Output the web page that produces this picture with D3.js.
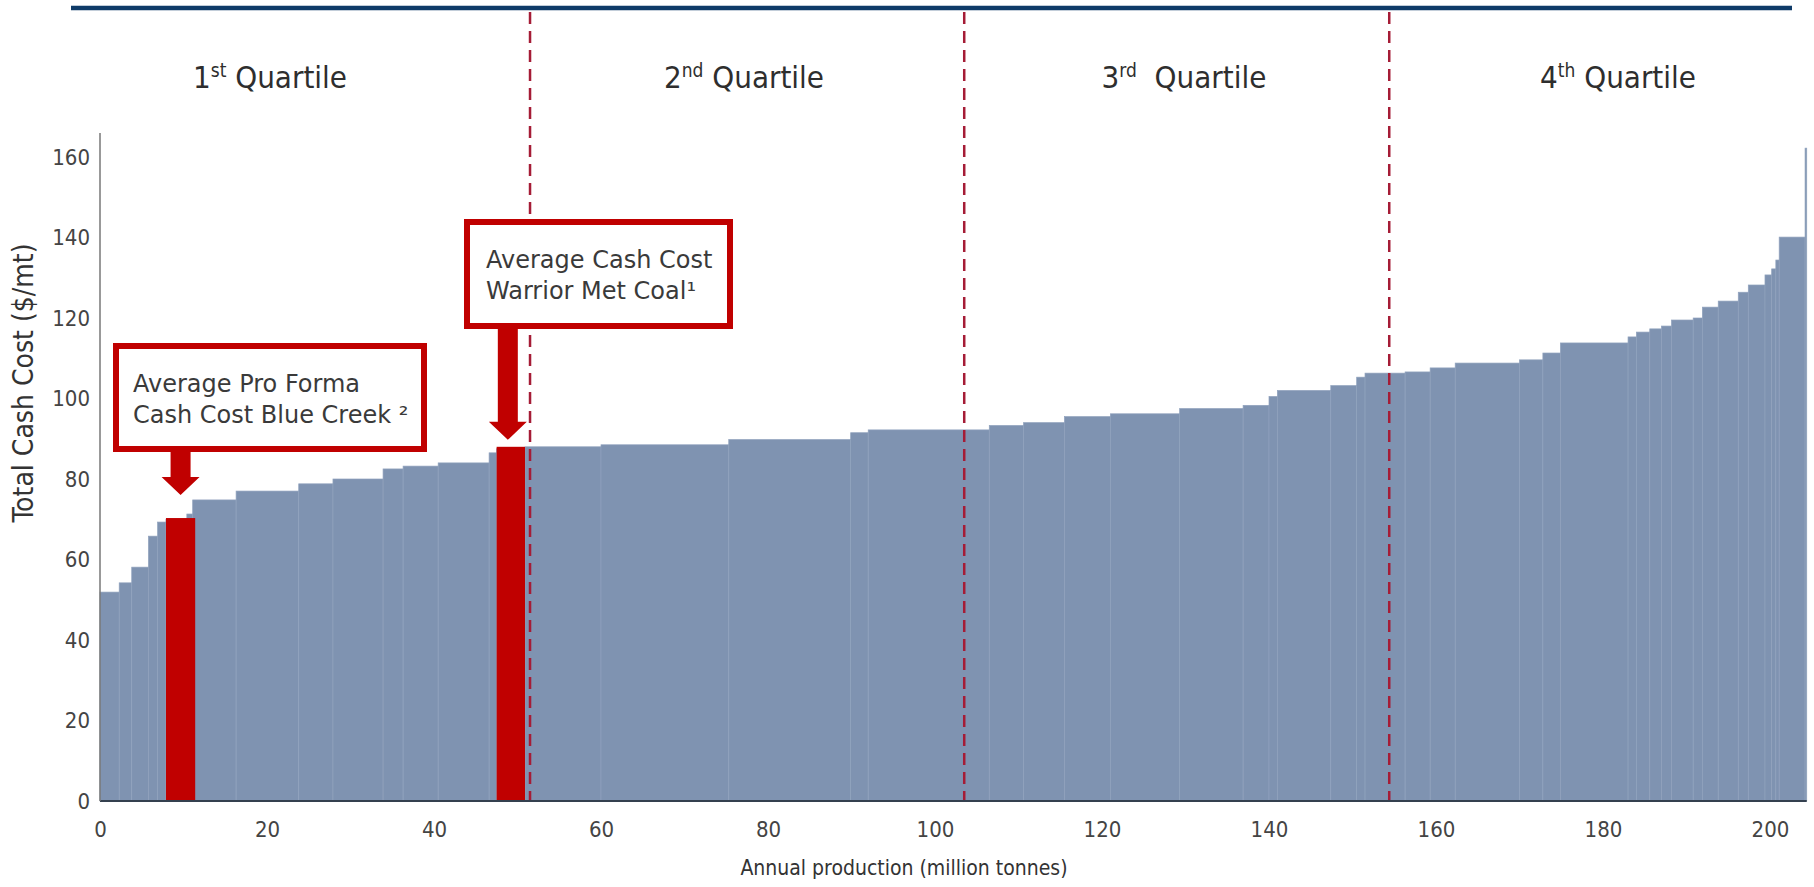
<!DOCTYPE html>
<html>
<head>
<meta charset="utf-8">
<script src="https://cdn.jsdelivr.net/npm/d3@7"></script>
<style>
  body { margin: 0; background: #fff; }
  svg { display: block; }
</style>
</head>
<body>
<div id="chart"></div>
<script>
// Cost curve: each step = one mine, ranked from cheapest to most expensive
// annual production of each mine (million tonnes)
const mineProduction = [2.3, 1.5, 2.0, 1.1, 1.0, 2.5, 0.7, 5.2, 7.5, 4.1,
                        6.0, 2.4, 4.2, 6.1, 0.9, 3.4, 9.1, 15.3, 14.6, 2.1,
                        14.5, 4.1, 4.9, 5.5, 8.3, 7.6, 3.1, 1.0, 6.4, 3.1,
                        1.0, 4.8, 3.0, 3.0, 7.7, 2.8, 2.1, 8.1, 1.0, 1.6,
                        1.4, 1.2, 2.6, 1.1, 1.9, 2.4, 1.2, 2.0, 0.8, 0.5,
                        0.4, 3.1, 0.2];
// total cash cost of each mine ($/mt)
const cashCost = [51.9, 54.2, 58.1, 65.8, 69.3, 70.0, 71.3, 74.8, 77.0, 78.8,
                  80.0, 82.5, 83.2, 84.0, 86.5, 87.5, 88.0, 88.5, 89.8, 91.5,
                  92.2, 93.3, 94.0, 95.5, 96.2, 97.5, 98.3, 100.5, 102.0, 103.2,
                  105.3, 106.3, 106.6, 107.6, 108.8, 109.6, 111.3, 113.8, 115.3, 116.5,
                  117.3, 118.0, 119.5, 120.0, 122.7, 124.2, 126.4, 128.2, 130.7, 132.2,
                  134.4, 140.1, 162.2];

const xTicks = [0, 20, 40, 60, 80, 100, 120, 140, 160, 180, 200];
const yTicks = [0, 20, 40, 60, 80, 100, 120, 140, 160];

// quartile boundaries (million tonnes)
const quartileBreaks = [51.5, 103.5, 154.4];
const quartileNum = ["1", "2", "3", "4"];
const quartileSup = ["st", "nd", "rd", "th"];
const quartileWord = [" Quartile", " Quartile", "  Quartile", " Quartile"];

// highlighted mines
const highlightStart = [7.9, 47.5];
const highlightEnd = [11.4, 50.9];
const highlightCost = [70.3, 88.0];
const calloutLines = [["Average Pro Forma", "Cash Cost Blue Creek ²"],
                      ["Average Cash Cost", "Warrior Met Coal¹"]];

const W = 1814, H = 887;
const GRAY = "#7f93b1", RED = "#c00000", DASH = "#a51c36";
const NARROW = "'Liberation Sans Narrow', 'Arial Narrow', 'DejaVu Sans Condensed', sans-serif";
const COND = "'DejaVu Sans Condensed', 'DejaVu Sans', sans-serif";

const svg = d3.select("#chart").append("svg")
    .attr("width", W)
    .attr("height", H)
    .style("background", "#fff");

const x = d3.scaleLinear().domain([0, 200]).range([100, 1770]);
const y = d3.scaleLinear().domain([0, 160]).range([801, 157]);

// step positions
const ends = Array.from(d3.cumsum(mineProduction));
const steps = mineProduction.map((w, i) => ({ x0: ends[i] - w, x1: ends[i], c: cashCost[i] }));

// top rule
svg.append("line")
    .attr("x1", 71).attr("x2", 1792)
    .attr("y1", 8).attr("y2", 8)
    .attr("stroke", "#0f3b68")
    .attr("stroke-width", 4.5);

// cost curve bars
svg.append("g").selectAll("rect")
  .data(steps)
  .enter().append("rect")
    .attr("x", d => x(d.x0))
    .attr("width", d => Math.max(0.5, x(d.x1) - x(d.x0)))
    .attr("y", d => y(d.c))
    .attr("height", d => y(0) - y(d.c))
    .attr("fill", GRAY)
    .attr("stroke", "#90a2bd")
    .attr("stroke-width", 0.7);

// highlighted mines in red
svg.append("g").selectAll("rect")
  .data(highlightCost)
  .enter().append("rect")
    .attr("x", (d, i) => x(highlightStart[i]))
    .attr("width", (d, i) => x(highlightEnd[i]) - x(highlightStart[i]))
    .attr("y", d => y(d))
    .attr("height", d => y(0) - y(d))
    .attr("fill", RED);

// quartile dividers
svg.append("g").selectAll("line")
  .data(quartileBreaks)
  .enter().append("line")
    .attr("x1", d => x(d)).attr("x2", d => x(d))
    .attr("y1", 12).attr("y2", 800)
    .attr("stroke", DASH)
    .attr("stroke-width", 2.5)
    .attr("stroke-dasharray", "12,7");

// x axis
const xAxis = svg.append("g")
    .attr("transform", "translate(0," + y(0) + ")")
    .call(d3.axisBottom(x).tickValues(xTicks).tickSize(0).tickPadding(20));
xAxis.select(".domain").remove();
xAxis.selectAll("text")
    .attr("font-family", NARROW)
    .attr("font-size", "22px")
    .attr("fill", "#444");
svg.append("line")
    .attr("x1", x(0)).attr("x2", x(d3.sum(mineProduction)))
    .attr("y1", y(0)).attr("y2", y(0))
    .attr("stroke", "#34404f")
    .attr("stroke-width", 2);

// y axis
const yAxis = svg.append("g")
    .attr("transform", "translate(" + x(0) + ",0)")
    .call(d3.axisLeft(y).tickValues(yTicks).tickSize(0).tickPadding(10));
yAxis.select(".domain").remove();
yAxis.selectAll("text")
    .attr("font-family", NARROW)
    .attr("font-size", "22px")
    .attr("fill", "#444");
svg.append("line")
    .attr("x1", x(0)).attr("x2", x(0))
    .attr("y1", 133).attr("y2", y(0))
    .attr("stroke", "#777")
    .attr("stroke-width", 1.5);

// axis titles
svg.append("text")
    .attr("x", 904).attr("y", 875)
    .attr("text-anchor", "middle")
    .attr("font-family", COND)
    .attr("font-size", "21px")
    .attr("fill", "#333")
    .text("Annual production (million tonnes)");

svg.append("text")
    .attr("transform", "translate(33,383) rotate(-90)")
    .attr("text-anchor", "middle")
    .attr("font-family", COND)
    .attr("font-size", "28px")
    .attr("fill", "#333")
    .text("Total Cash Cost ($/mt)");

// quartile labels
const labelX = [270, 744, 1184, 1618];
quartileNum.forEach((n, i) => {
  const t = svg.append("text")
      .attr("x", labelX[i]).attr("y", 88)
      .attr("text-anchor", "middle")
      .attr("font-family", NARROW)
      .attr("font-size", "31px")
      .attr("fill", "#2e2e2e")
      .style("white-space", "pre");
  t.append("tspan").text(n);
  t.append("tspan").attr("dy", -11).attr("font-size", "19px").text(quartileSup[i]);
  t.append("tspan").attr("dy", 11).text(quartileWord[i]);
});

// callout boxes with arrows
const boxes = [
  { left: 116, top: 346, w: 308, h: 103, tx: 133, gap: 23 },
  { left: 467, top: 222, w: 263, h: 104, tx: 486, gap: 7 }
];
boxes.forEach((b, i) => {
  const cx = x((highlightStart[i] + highlightEnd[i]) / 2) - (i === 1 ? 3 : 0);
  const tipY = y(highlightCost[i]) - b.gap;
  const baseY = b.top + b.h + 3;
  const headY = tipY - 18;
  svg.append("path")
      .attr("d", d3.line()([
        [cx - 10, baseY], [cx + 10, baseY], [cx + 10, headY], [cx + 19, headY],
        [cx, tipY], [cx - 19, headY], [cx - 10, headY]
      ]) + "Z")
      .attr("fill", RED);

  svg.append("rect")
      .attr("x", b.left).attr("y", b.top)
      .attr("width", b.w).attr("height", b.h)
      .attr("fill", "#fff")
      .attr("stroke", RED)
      .attr("stroke-width", 6);

  svg.append("g").selectAll("text")
    .data(calloutLines[i])
    .enter().append("text")
      .attr("x", b.tx)
      .attr("y", (d, j) => b.top + 46 + j * 31)
      .attr("font-family", "'DejaVu Sans', sans-serif")
      .attr("font-size", "24px")
      .attr("fill", "#3a3a3a")
      .style("white-space", "pre")
      .text(d => d);
});
</script>
</body>
</html>
